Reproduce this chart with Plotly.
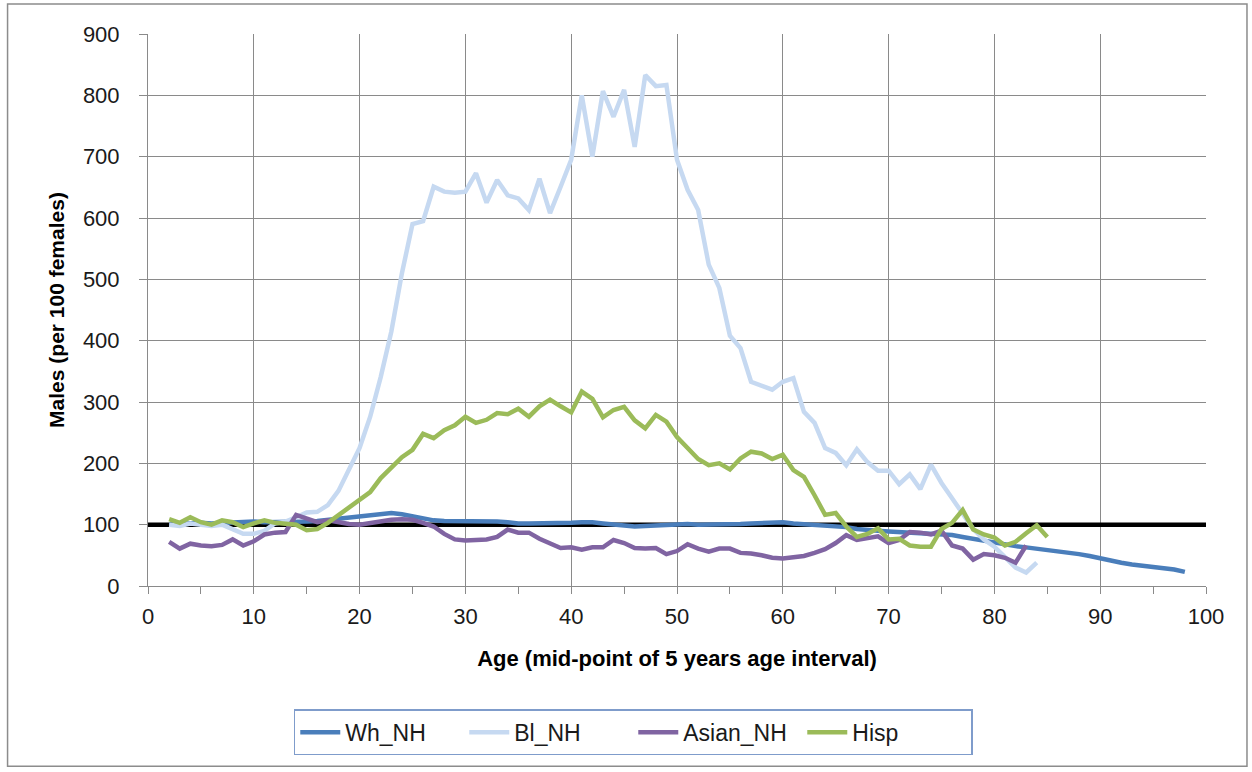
import plotly.graph_objects as go

# Sex ratio (males per 100 females) by age, 5-year moving age intervals
ages_wh = list(range(2, 99))
wh_nh = [100, 101, 103, 103, 102, 103, 103, 104, 105, 104, 104, 104, 104, 105, 106, 108,
         110, 112, 114, 116, 118, 119, 117, 114, 111, 107, 106, 106, 105, 105, 105, 105,
         104, 102, 102, 102, 102, 102, 103, 104, 104, 102, 100, 98, 97, 98, 99, 100,
         100, 101, 100, 100, 100, 100, 101, 102, 103, 104, 104, 102, 101, 100, 99, 98,
         96, 93, 91, 90, 89, 88, 87, 86, 86, 85, 83, 80, 77, 73, 70, 67,
         65, 63, 61, 58, 57, 54, 52, 49, 45, 42, 38, 35, 33, 32, 30, 27, 23]

ages_bl = list(range(2, 85))
bl_nh = [100, 98, 102, 100, 98, 100, 92, 85, 85, 90, 102, 105, 112, 120, 121, 132,
         155, 190, 225, 276, 341, 415, 510, 590, 595, 651, 643, 641, 643, 673, 625, 662,
         637, 632, 613, 664, 608, 651, 695, 800, 700, 807, 765, 809, 716, 833, 815, 817,
         695, 646, 613, 524, 486, 408, 388, 333, 327, 320, 333, 339, 284, 266, 225, 217,
         197, 223, 202, 188, 188, 166, 182, 158, 198, 168, 143, 117, 93, 76, 64, 47,
         30, 22, 38]

ages_as = list(range(2, 84))
asian_nh = [72, 61, 69, 66, 65, 67, 76, 66, 73, 84, 87, 88, 116, 110, 104, 107,
            104, 101, 100, 103, 106, 108, 109, 108, 103, 97, 85, 76, 74, 75, 76, 80,
            92, 87, 87, 77, 70, 62, 63, 59, 63, 63, 75, 70, 62, 61, 62, 52,
            57, 68, 61, 56, 61, 61, 54, 53, 50, 46, 45, 47, 49, 54, 60, 70,
            83, 75, 78, 81, 70, 75, 88, 87, 84, 90, 66, 61, 43, 52, 50, 46,
            38, 66]

ages_hi = list(range(2, 86))
hisp = [109, 103, 112, 104, 100, 107, 104, 96, 102, 107, 103, 102, 100, 91, 93, 103,
        115, 128, 140, 153, 176, 193, 210, 222, 248, 241, 254, 262, 276, 266, 271, 282,
        280, 289, 276, 293, 304, 293, 283, 317, 305, 275, 287, 292, 270, 257, 279, 268,
        243, 225, 207, 197, 200, 190, 208, 219, 216, 207, 214, 189, 178, 148, 116, 119,
        97, 80, 85, 94, 76, 77, 66, 64, 64, 93, 103, 124, 92, 84, 79, 66,
        72, 86, 99, 80]

parity_x = [0, 100]
parity_y = [100, 100]

W, H = 1252, 772
L, R, T, B = 147.5, 1206, 34, 586.5

FONT = "Liberation Sans"
GRID = "#8a8a8a"
TEXT = "#1a1a1a"

fig = go.Figure()

# Parity reference line (equal numbers of males and females)
fig.add_trace(go.Scatter(x=parity_x, y=parity_y, mode="lines",
                         line=dict(color="black", width=4.5),
                         showlegend=False, hoverinfo="skip"))

series = [
    ("Wh_NH", ages_wh, wh_nh, "#4a7ebb"),
    ("Bl_NH", ages_bl, bl_nh, "#c6d9f1"),
    ("Asian_NH", ages_as, asian_nh, "#8064a2"),
    ("Hisp", ages_hi, hisp, "#9bbb59"),
]
for name, xs, ys, col in series:
    fig.add_trace(go.Scatter(x=xs, y=ys, mode="lines", name=name,
                             line=dict(color=col, width=4.5)))


def px_x(p):
    return (p - L) / (R - L)


def px_y(p):
    return (B - p) / (B - T)


# Outer chart frame
fig.add_shape(type="rect", xref="paper", yref="paper",
              x0=px_x(7), x1=px_x(1247), y0=px_y(767), y1=px_y(4),
              line=dict(color="#8c8c8c", width=1.5), fillcolor="rgba(0,0,0,0)",
              layer="below")

fig.update_layout(
    width=W, height=H, autosize=False,
    margin=dict(l=L, r=W - R, t=T, b=H - B),
    paper_bgcolor="white", plot_bgcolor="white",
    font=dict(family=FONT, size=22, color=TEXT),
    showlegend=True,
    legend=dict(orientation="h", xanchor="center", yanchor="middle",
                x=px_x(633), y=px_y(733),
                bordercolor="#7f9ccb", borderwidth=1.5,
                font=dict(family=FONT, size=23, color=TEXT),
                itemwidth=40, tracegroupgap=0,
                entrywidth=114, entrywidthmode="pixels"),
)

fig.update_xaxes(
    range=[0, 100], dtick=10, tick0=0,
    showgrid=True, gridcolor=GRID, gridwidth=1,
    showline=True, linecolor=GRID, linewidth=1,
    ticks="outside", ticklen=7, tickcolor=GRID,
    minor=dict(dtick=5, ticks="outside", ticklen=7, tickcolor=GRID, showgrid=False),
    zeroline=False, ticklabelstandoff=4,
    title=dict(text="<b>Age (mid-point of 5 years age interval)</b>",
               font=dict(family=FONT, size=22, color="black"), standoff=22),
    tickfont=dict(family=FONT, size=22, color=TEXT),
)
fig.update_yaxes(
    range=[0, 900], dtick=100, tick0=0,
    showgrid=True, gridcolor=GRID, gridwidth=1,
    showline=True, linecolor=GRID, linewidth=1,
    ticks="outside", ticklen=8, tickcolor=GRID,
    zeroline=False, ticklabelstandoff=15,
    title=dict(text="<b>Males (per 100 females)</b>",
               font=dict(family=FONT, size=21, color="black"), standoff=12),
    tickfont=dict(family=FONT, size=22, color=TEXT),
)

fig.write_html("out.html")
